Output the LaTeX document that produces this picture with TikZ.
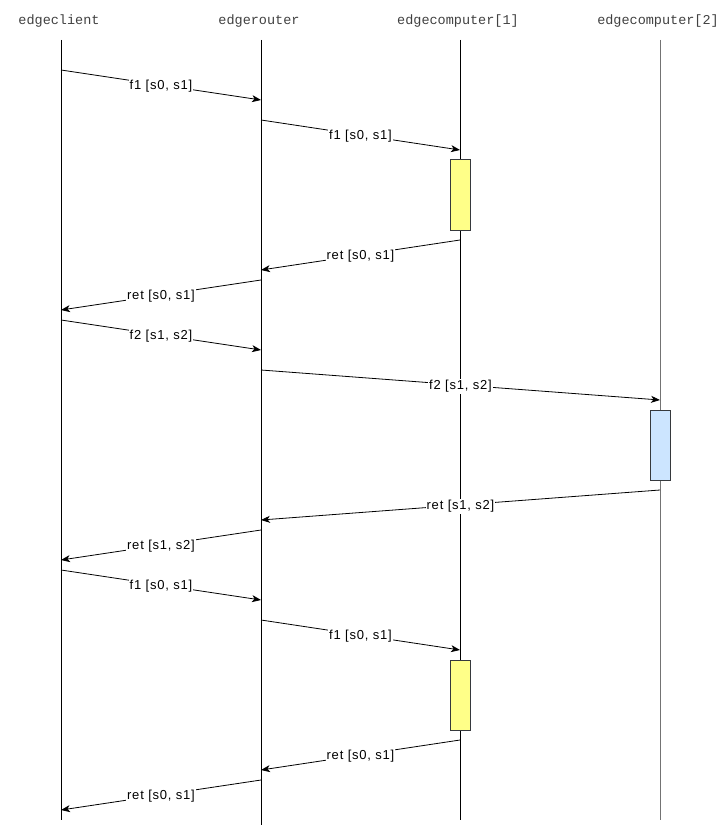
\documentclass[tikz,border=0pt]{standalone}
\usepackage{fontspec}
\setmainfont{Liberation Sans}
\newfontfamily\lblfont[LetterSpace=6]{Liberation Sans}
\newfontfamily\monofont{Liberation Mono}
\usetikzlibrary{arrows.meta}
\definecolor{actyellow}{HTML}{FFFF88}
\definecolor{actblue}{HTML}{CCE5FF}
\definecolor{actborder}{HTML}{36393D}
\tikzset{
  head/.style={font=\monofont\fontsize{13.5}{15}\selectfont, text=black!75, inner sep=1pt, anchor=center},
  lifeline/.style={draw=black, line width=0.9pt},
  msg/.style={draw=black, line width=0.8pt, -{Stealth[length=9pt,width=7pt,inset=2.5pt]}},
  lbl/.style={fill=white, inner sep=1pt, yshift=-1.5pt, font=\lblfont\fontsize{13}{15}\selectfont},
  actbox/.style={draw=actborder, line width=1pt, minimum width=20pt, minimum height=70pt, inner sep=0pt},
}
\begin{document}
\begin{tikzpicture}[x=1pt,y=-1pt]
\useasboundingbox (0,0) rectangle (724,826);
% headers
\node[head] (hc) at (59,21) {edgeclient};
\node[head] (hr) at (259,21) {edgerouter};
\node[head] (h1) at (458,21) {edgecomputer[1]};
\node[head] (h2) at (658,21) {edgecomputer[2]};
% lifeline ends
\coordinate (c0) at (61,40);  \coordinate (c1) at (61,820);
\coordinate (r0) at (261,40); \coordinate (r1) at (261,825);
\coordinate (a0) at (460,40); \coordinate (a1) at (460,820);
\coordinate (b0) at (660,40); \coordinate (b1) at (660,820);
\draw[lifeline] (c0) -- (c1);
\draw[lifeline] (r0) -- (r1);
\draw[lifeline] (a0) -- (a1);
\draw[lifeline, draw=black!55] (b0) -- (b1);
% activation boxes
\node[actbox, fill=actyellow] (act1) at (460,195) {};
\node[actbox, fill=actblue] (act2) at (660,445) {};
\node[actbox, fill=actyellow] (act3) at (460,695) {};
% message endpoints
\coordinate (m1s) at (61,70);   \coordinate (m1e) at (261,100);
\coordinate (m2s) at (261,120); \coordinate (m2e) at (460,150);
\coordinate (m3s) at (460,240); \coordinate (m3e) at (261,270);
\coordinate (m4s) at (261,280); \coordinate (m4e) at (61,310);
\coordinate (m5s) at (61,320);  \coordinate (m5e) at (261,350);
\coordinate (m6s) at (261,370); \coordinate (m6e) at (660,400);
\coordinate (m7s) at (660,490); \coordinate (m7e) at (261,520);
\coordinate (m8s) at (261,530); \coordinate (m8e) at (61,560);
\coordinate (m9s) at (61,570);  \coordinate (m9e) at (261,600);
\coordinate (m10s) at (261,620); \coordinate (m10e) at (460,650);
\coordinate (m11s) at (460,740); \coordinate (m11e) at (261,770);
\coordinate (m12s) at (261,780); \coordinate (m12e) at (61,810);
% messages
\draw[msg] (m1s) -- node[lbl] (l1) {f1 [s0, s1]} (m1e);
\draw[msg] (m2s) -- node[lbl] (l2) {f1 [s0, s1]} (m2e);
\draw[msg] (m3s) -- node[lbl] (l3) {ret [s0, s1]} (m3e);
\draw[msg] (m4s) -- node[lbl] (l4) {ret [s0, s1]} (m4e);
\draw[msg] (m5s) -- node[lbl] (l5) {f2 [s1, s2]} (m5e);
\draw[msg] (m6s) -- node[lbl] (l6) {f2 [s1, s2]} (m6e);
\draw[msg] (m7s) -- node[lbl] (l7) {ret [s1, s2]} (m7e);
\draw[msg] (m8s) -- node[lbl] (l8) {ret [s1, s2]} (m8e);
\draw[msg] (m9s) -- node[lbl] (l9) {f1 [s0, s1]} (m9e);
\draw[msg] (m10s) -- node[lbl] (l10) {f1 [s0, s1]} (m10e);
\draw[msg] (m11s) -- node[lbl] (l11) {ret [s0, s1]} (m11e);
\draw[msg] (m12s) -- node[lbl] (l12) {ret [s0, s1]} (m12e);
\end{tikzpicture}
\end{document}
